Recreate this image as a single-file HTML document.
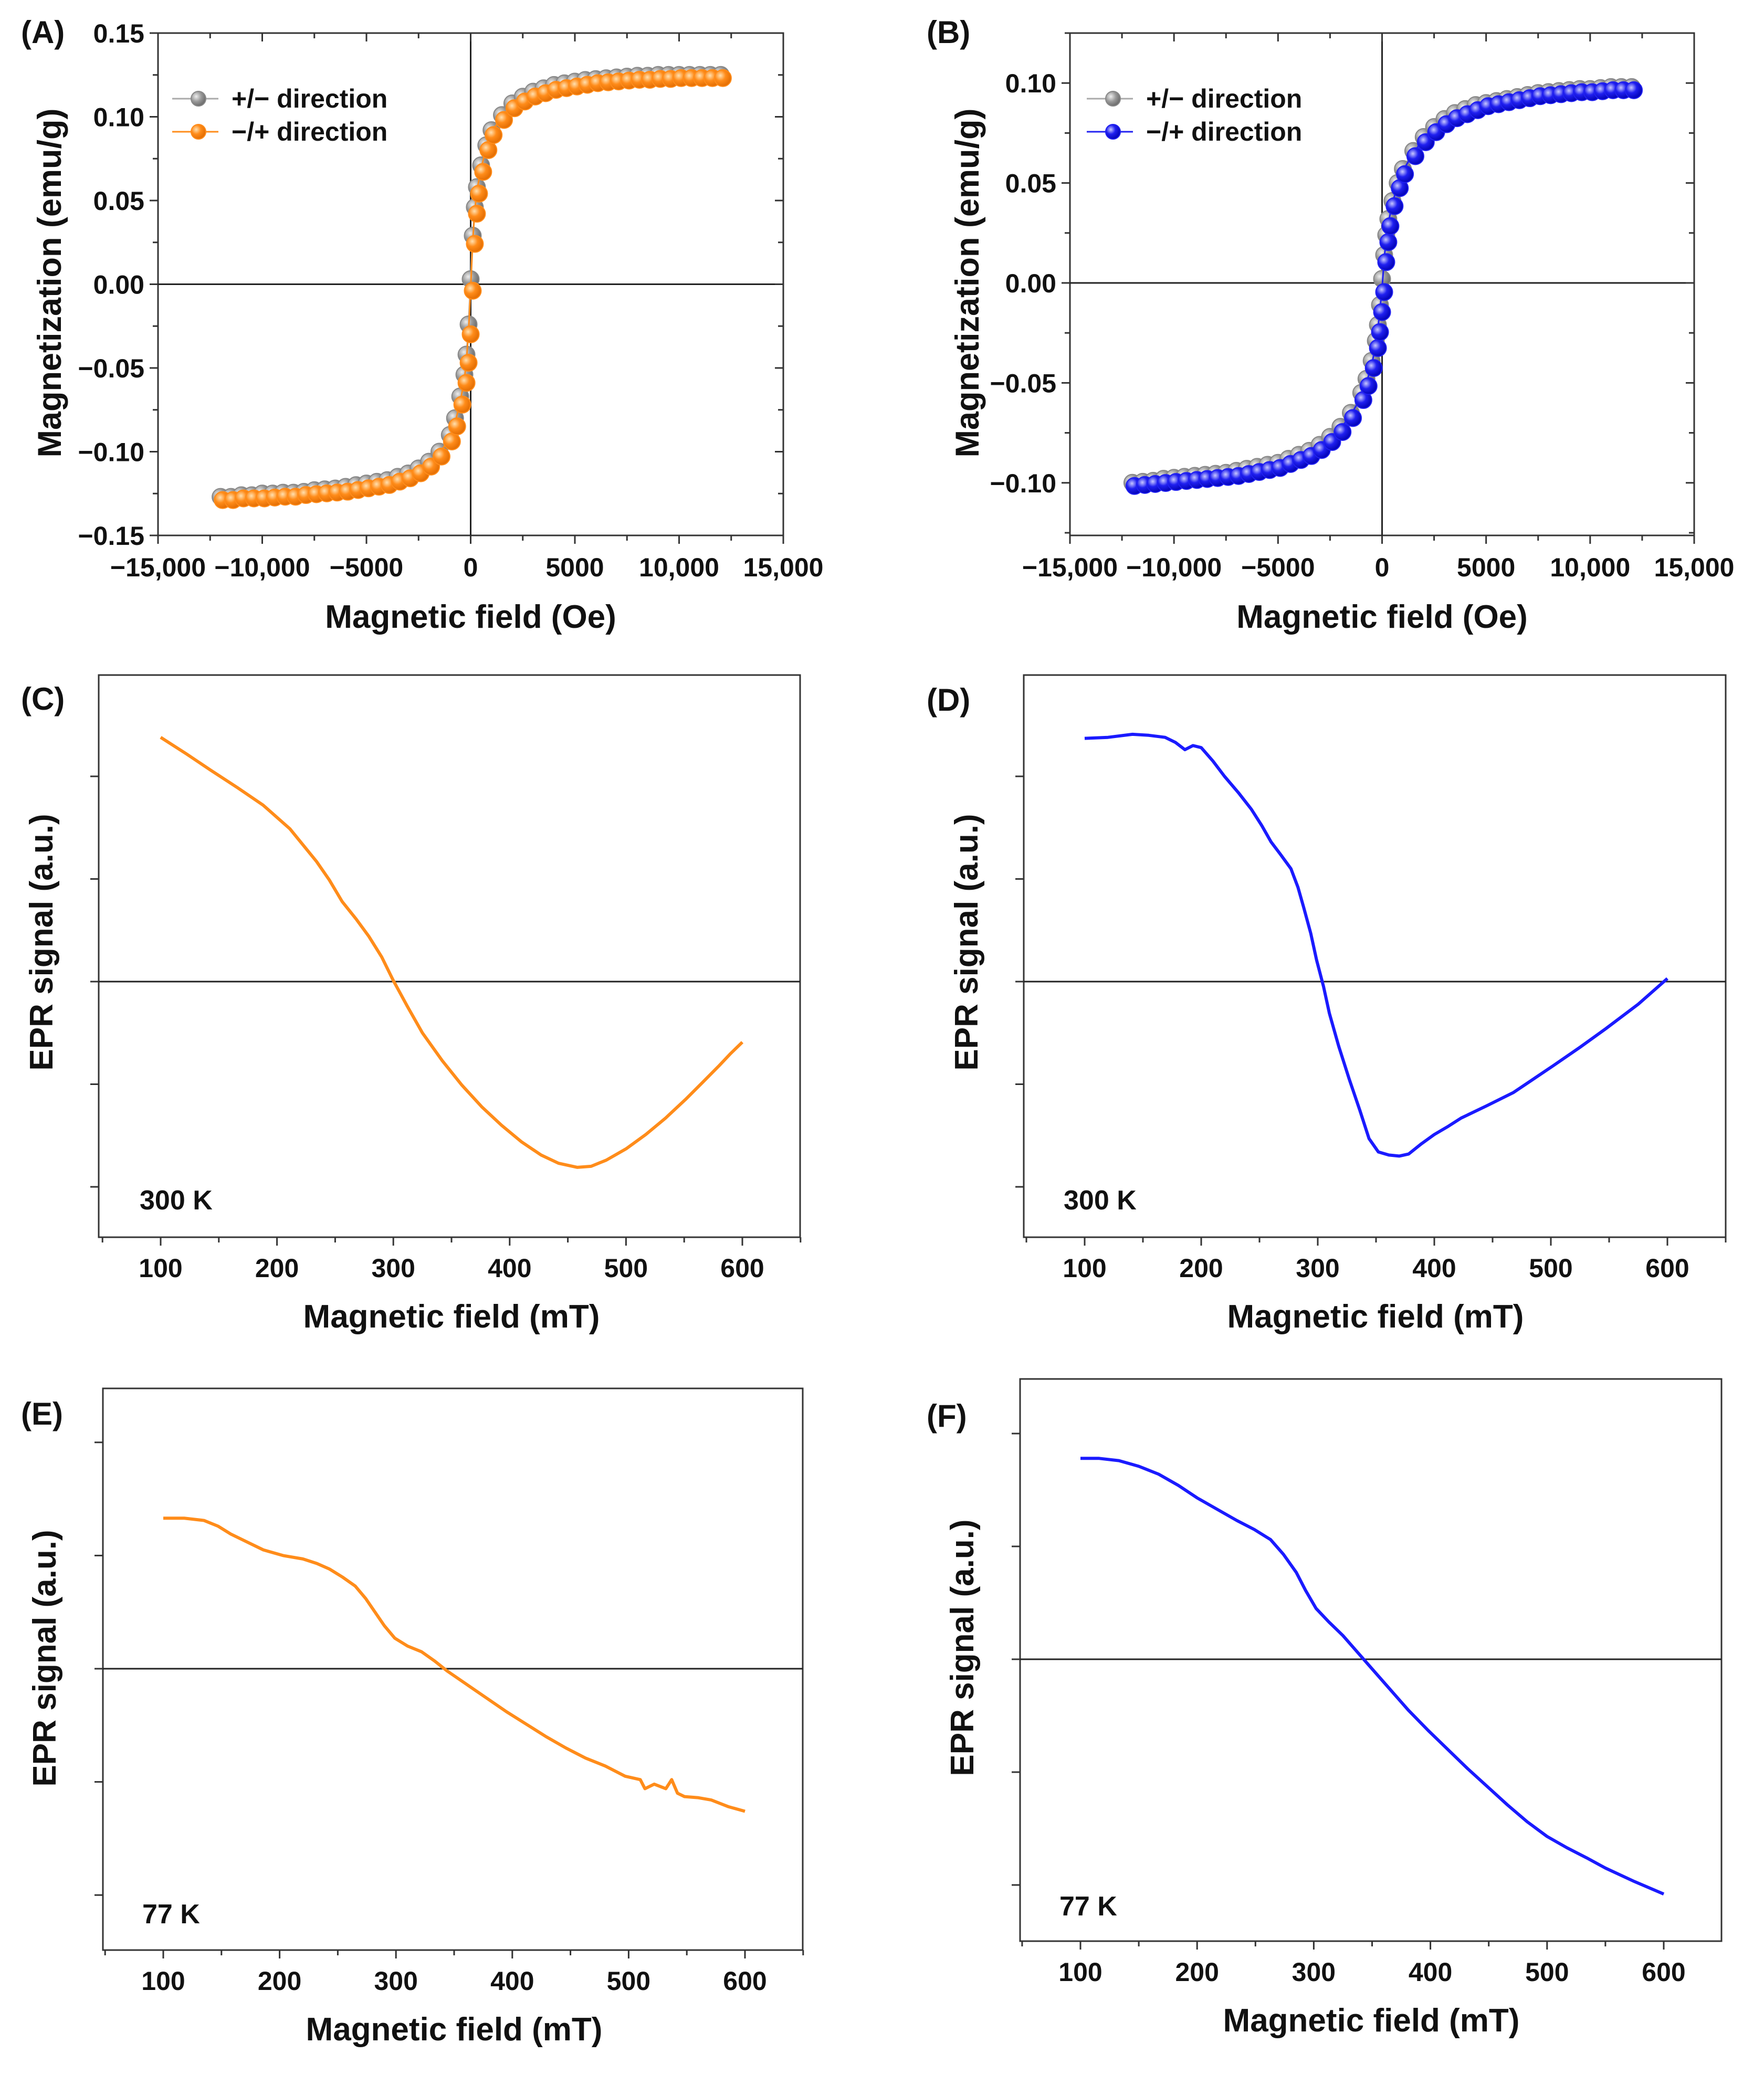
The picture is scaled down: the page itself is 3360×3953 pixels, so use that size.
<!DOCTYPE html>
<html><head><meta charset="utf-8"><style>
html,body{margin:0;padding:0;background:#fff}
svg{display:block}
text{font-family:"Liberation Sans",Arial,sans-serif;font-weight:bold;fill:#111}
</style></head><body>
<svg id="fig" xmlns="http://www.w3.org/2000/svg" width="3360" height="3953" viewBox="0 0 3360 3953">
<defs>
<radialGradient id="gOr" cx="0.35" cy="0.35" r="0.7"><stop offset="0" stop-color="#ffe0b0"/><stop offset="0.45" stop-color="#ff8c1a"/><stop offset="1" stop-color="#e06a00"/></radialGradient>
<radialGradient id="gBl" cx="0.35" cy="0.35" r="0.7"><stop offset="0" stop-color="#c8c8ff"/><stop offset="0.45" stop-color="#2020f0"/><stop offset="1" stop-color="#0000b0"/></radialGradient>
<radialGradient id="gGr" cx="0.35" cy="0.35" r="0.7"><stop offset="0" stop-color="#eeeeee"/><stop offset="0.5" stop-color="#999"/><stop offset="1" stop-color="#666"/></radialGradient>
</defs>
</svg>
<script>
// ---------- data ----------
const hystH = [-12000,-11500,-11000,-10500,-10000,-9500,-9000,-8500,-8000,-7500,-7000,-6500,-6000,-5500,-5000,-4500,-4000,-3500,-3000,-2500,-2000,-1500,-1000,-750,-500,-300,-200,-100,0,100,200,300,500,750,1000,1500,2000,2500,3000,3500,4000,4500,5000,5500,6000,6500,7000,7500,8000,8500,9000,9500,10000,10500,11000,11500,12000];
const magA_up = [-0.127,-0.127,-0.126,-0.126,-0.126,-0.1255,-0.125,-0.125,-0.124,-0.1235,-0.123,-0.1225,-0.122,-0.121,-0.120,-0.119,-0.118,-0.116,-0.114,-0.111,-0.107,-0.101,-0.092,-0.083,-0.070,-0.057,-0.045,-0.028,-0.002,0.026,0.044,0.056,0.069,0.082,0.091,0.100,0.107,0.111,0.114,0.116,0.118,0.119,0.120,0.121,0.122,0.1225,0.123,0.1235,0.124,0.124,0.1245,0.1245,0.125,0.125,0.125,0.125,0.125];
const magA_down = [-0.127,-0.127,-0.126,-0.126,-0.125,-0.125,-0.1245,-0.1245,-0.124,-0.123,-0.1225,-0.122,-0.121,-0.120,-0.119,-0.118,-0.117,-0.115,-0.113,-0.110,-0.106,-0.100,-0.090,-0.080,-0.067,-0.054,-0.042,-0.024,0.003,0.029,0.046,0.058,0.071,0.083,0.092,0.101,0.108,0.112,0.115,0.117,0.119,0.120,0.121,0.122,0.1225,0.123,0.1235,0.124,0.1245,0.1245,0.125,0.125,0.125,0.125,0.125,0.125,0.125];
const magB_up = [-0.100,-0.0995,-0.099,-0.0985,-0.098,-0.0975,-0.097,-0.0965,-0.096,-0.0955,-0.095,-0.094,-0.093,-0.092,-0.091,-0.089,-0.087,-0.085,-0.082,-0.078,-0.073,-0.066,-0.057,-0.050,-0.041,-0.031,-0.023,-0.013,-0.003,0.012,0.022,0.030,0.040,0.049,0.056,0.065,0.072,0.077,0.081,0.084,0.086,0.088,0.090,0.091,0.092,0.093,0.094,0.095,0.0955,0.096,0.0965,0.097,0.097,0.0975,0.098,0.098,0.098];
const magB_down = [-0.100,-0.0995,-0.099,-0.098,-0.0975,-0.097,-0.0965,-0.096,-0.0955,-0.095,-0.094,-0.093,-0.092,-0.091,-0.090,-0.088,-0.086,-0.084,-0.081,-0.077,-0.072,-0.065,-0.055,-0.048,-0.039,-0.029,-0.021,-0.011,0.002,0.014,0.024,0.032,0.041,0.050,0.057,0.066,0.073,0.078,0.082,0.085,0.087,0.089,0.090,0.091,0.092,0.093,0.094,0.095,0.0955,0.096,0.0965,0.097,0.097,0.0975,0.098,0.098,0.098];
const xTicksHyst = [-15000,-10000,-5000,0,5000,10000,15000];
const xTickLabelsHyst = ["\u221215,000","\u221210,000","\u22125000","0","5000","10,000","15,000"];
const yTicksA = [-0.15,-0.10,-0.05,0.00,0.05,0.10,0.15];
const yTickLabelsA = ["\u22120.15","\u22120.10","\u22120.05","0.00","0.05","0.10","0.15"];
const yTicksB = [-0.10,-0.05,0.00,0.05,0.10];
const yTickLabelsB = ["\u22120.10","\u22120.05","0.00","0.05","0.10"];

const eprTicks = [100,200,300,400,500,600];
const eprC_x = [100,122,143,166,188,211,234,245,256,268,279,290,300,312,325,342,359,376,393,410,427,442,458,470,483,500,517,534,551,566,580,590,600];
const eprC_y = [2.38,2.22,2.06,1.89,1.72,1.49,1.17,0.99,0.78,0.61,0.44,0.24,0.01,-0.24,-0.50,-0.77,-1.01,-1.22,-1.40,-1.56,-1.69,-1.77,-1.81,-1.80,-1.74,-1.63,-1.49,-1.33,-1.15,-0.98,-0.82,-0.70,-0.59];
const eprD_x = [100,120,141,155,169,178,186,193,200,210,220,232,243,252,260,268,277,283,288,294,299,305,310,318,327,336,344,352,361,370,378,389,400,412,423,445,468,485,502,525,547,575,600];
const eprD_y = [2.37,2.38,2.41,2.40,2.38,2.33,2.26,2.30,2.28,2.15,2.00,1.84,1.68,1.52,1.36,1.24,1.10,0.92,0.72,0.47,0.21,-0.05,-0.31,-0.63,-0.95,-1.25,-1.53,-1.66,-1.69,-1.70,-1.68,-1.58,-1.49,-1.41,-1.33,-1.21,-1.08,-0.95,-0.82,-0.64,-0.46,-0.22,0.03];
const eprE_x = [100,118,135,147,158,172,186,203,220,232,243,254,265,274,282,290,299,310,322,333,344,361,378,395,412,429,446,463,480,497,510,514,522,532,537,542,548,560,571,586,600];
const eprE_y = [1.33,1.33,1.31,1.26,1.19,1.12,1.05,1.00,0.97,0.93,0.88,0.81,0.73,0.62,0.50,0.38,0.27,0.20,0.15,0.07,-0.02,-0.14,-0.26,-0.38,-0.49,-0.60,-0.70,-0.79,-0.86,-0.95,-0.98,-1.06,-1.02,-1.06,-0.98,-1.10,-1.13,-1.14,-1.16,-1.22,-1.26];
const eprF_x = [100,116,133,150,167,184,200,217,234,249,263,274,285,293,302,313,325,336,347,364,381,398,415,432,449,466,483,500,517,534,550,575,600];
const eprF_y = [1.78,1.78,1.76,1.71,1.64,1.54,1.43,1.33,1.23,1.15,1.06,0.93,0.77,0.61,0.45,0.33,0.21,0.08,-0.05,-0.25,-0.45,-0.63,-0.80,-0.97,-1.13,-1.29,-1.44,-1.57,-1.67,-1.76,-1.85,-1.97,-2.08];

// ---------- helpers ----------
const svg = document.getElementById('fig');
const NS = 'http://www.w3.org/2000/svg';
function mk(tag, attrs, parent){ const e=document.createElementNS(NS,tag); for(const k in attrs) e.setAttribute(k,attrs[k]); (parent||svg).appendChild(e); return e; }
function txt(s, x, y, size, anchor, parent, rot){ const t=mk('text',{x:x,y:y,'font-size':size,'text-anchor':anchor||'start'},parent); if(rot) t.setAttribute('transform','rotate(-90 '+x+' '+y+')'); t.textContent=s; return t; }
function lin(d0,d1,r0,r1){ return v => r0 + (v-d0)*(r1-r0)/(d1-d0); }

function frame(g, x0,y0,x1,y1){
  const r = mk('rect',{x:x0,y:y0,width:x1-x0,height:y1-y0,fill:'none',stroke:'#333','stroke-width':3},g);
  
  
}

// ---------- hysteresis panels ----------
function hystPanel(cfg){
  const g = mk('g',{});
  
  
  const X = lin(-15000,15000,cfg.x0,cfg.x1), Y = lin(cfg.yd0,cfg.yd1,cfg.yr0,cfg.yr1);
  frame(g,cfg.x0,cfg.y0,cfg.x1,cfg.y1);
  mk('line',{x1:cfg.x0,x2:cfg.x1,y1:Y(0),y2:Y(0),stroke:'#222','stroke-width':3},g);
  mk('line',{x1:X(0),x2:X(0),y1:cfg.y0,y2:cfg.y1,stroke:'#222','stroke-width':3},g);
  for(let v=-15000; v<=15000; v+=2500){
    const maj = v%5000===0, L = maj?16:10;
    mk('line',{x1:X(v),x2:X(v),y1:cfg.y1,y2:cfg.y1+L,stroke:'#333','stroke-width':3},g);
    mk('line',{x1:X(v),x2:X(v),y1:cfg.y0,y2:cfg.y0+L,stroke:'#333','stroke-width':3},g);
  }
  const xl = mk('g',{},g);
  
  
  xTicksHyst.forEach((v,i)=>txt(xTickLabelsHyst[i], X(v), cfg.y1+78, 50, 'middle', xl));
  for(let k=Math.ceil(cfg.yd0/0.025-1e-6); k*0.025<=cfg.yd1+1e-9; k++){
    const v=k*0.025, maj = k%2===0, L = maj?16:10;
    mk('line',{x1:cfg.x0-L,x2:cfg.x0,y1:Y(v),y2:Y(v),stroke:'#333','stroke-width':3},g);
    mk('line',{x1:cfg.x1-L,x2:cfg.x1,y1:Y(v),y2:Y(v),stroke:'#333','stroke-width':3},g);
  }
  const yl = mk('g',{},g);
  
  
  cfg.yTicks.forEach((v,i)=>txt(cfg.yLabels[i], cfg.x0-26, Y(v)+18, 50, 'end', yl));
  const s1 = mk('g',{},g);
  
  
  mk('polyline',{points:hystH.map((h,i)=>X(h)+','+Y(cfg.down[i])).join(' '),fill:'none',stroke:'#aaa','stroke-width':3},s1);
  hystH.forEach((h,i)=>{ const c=mk('circle',{cx:X(h),cy:Y(cfg.down[i]),r:16,fill:'url(#gGr)',stroke:'#888','stroke-width':2},s1);
      });
  const s2 = mk('g',{},g);
  
  
  mk('polyline',{points:hystH.map((h,i)=>X(h)+','+Y(cfg.up[i])).join(' '),fill:'none',stroke:cfg.col,'stroke-width':3},s2);
  hystH.forEach((h,i)=>{ const c=mk('circle',{cx:X(h)+4,cy:Y(cfg.up[i])+6,r:16,fill:cfg.grad,stroke:cfg.col,'stroke-width':2},s2);
      });
  const lg = mk('g',{},g);
  
  
  mk('line',{x1:cfg.lx,x2:cfg.lx+88,y1:cfg.ly,y2:cfg.ly,stroke:'#aaa','stroke-width':3},lg);
  mk('circle',{cx:cfg.lx+50,cy:cfg.ly,r:14,fill:'url(#gGr)',stroke:'#888','stroke-width':2},lg);
  txt('+/\u2212 direction', cfg.lx+113, cfg.ly+17, 50, 'start', lg);
  mk('line',{x1:cfg.lx,x2:cfg.lx+88,y1:cfg.ly+63,y2:cfg.ly+63,stroke:cfg.col,'stroke-width':3},lg);
  mk('circle',{cx:cfg.lx+50,cy:cfg.ly+63,r:14,fill:cfg.grad,stroke:cfg.col,'stroke-width':2},lg);
  txt('\u2212/+ direction', cfg.lx+113, cfg.ly+80, 50, 'start', lg);
  const xt = txt('Magnetic field (Oe)', (cfg.x0+cfg.x1)/2, 1196, 62, 'middle', g);
   
  const yt = txt('Magnetization (emu/g)', cfg.ytx, 539, 63, 'middle', g, true);
   
  const pl = txt(cfg.label, cfg.lbx, 82, 60, 'start', g);
   
}

hystPanel({name:'panel-a-hysteresis',x0:301,x1:1492,y0:63,y1:1020,yd0:-0.15,yd1:0.15,yr0:1020,yr1:63,
  yTicks:yTicksA,yLabels:yTickLabelsA,up:magA_up,down:magA_down,col:'#ff8c1a',grad:'url(#gOr)',
  lx:328,ly:188,ytx:116,lbx:40,label:'(A)'});
hystPanel({name:'panel-b-hysteresis',x0:2038,x1:3227,y0:63,y1:1020,yd0:-0.125,yd1:0.125,yr0:1015,yr1:63,
  yTicks:yTicksB,yLabels:yTickLabelsB,up:magB_up,down:magB_down,col:'#2020f0',grad:'url(#gBl)',
  lx:2070,ly:188,ytx:1864,lbx:1765,label:'(B)'});

// ---------- EPR panels ----------
function eprPanel(cfg){
  const g = mk('g',{});
  
  
  const X = lin(100,600,cfg.xa,cfg.xb), Y = v => cfg.zero - v*cfg.unit;
  frame(g,cfg.x0,cfg.y0,cfg.x1,cfg.y1);
  mk('line',{x1:cfg.x0,x2:cfg.x1,y1:Y(0),y2:Y(0),stroke:'#222','stroke-width':3},g);
  for(let v=50; v<=650; v+=50){
    const xx=X(v); if(xx<cfg.x0-1||xx>cfg.x1+1) continue;
    const L = v%100===0?16:10;
    mk('line',{x1:xx,x2:xx,y1:cfg.y1,y2:cfg.y1+L,stroke:'#333','stroke-width':3},g);
  }
  for(let k=-3;k<=3;k++){
    const yy=Y(k); if(yy<cfg.y0-1||yy>cfg.y1+1) continue;
    mk('line',{x1:cfg.x0-16,x2:cfg.x0,y1:yy,y2:yy,stroke:'#333','stroke-width':3},g);
  }
  const xl = mk('g',{},g);
  
  
  eprTicks.forEach(v=>txt(String(v), X(v), cfg.y1+76, 50, 'middle', xl));
  const p = mk('polyline',{points:cfg.xs.map((m,i)=>X(m)+','+Y(cfg.ys[i])).join(' '),fill:'none',stroke:cfg.col,'stroke-width':6,'stroke-linejoin':'round'},g);
  
  
  const xt = txt('Magnetic field (mT)', cfg.xtx, cfg.y1+172, 62, 'middle', g);
   
  const yt = txt('EPR signal (a.u.)', cfg.ytx, cfg.ytc, 62, 'middle', g, true);
   
  const tl = txt(cfg.temp, cfg.tx, cfg.ty, 52, 'start', g);
   
  const pl = txt(cfg.label, cfg.lbx, cfg.lby, 60, 'start', g);
   
}

eprPanel({name:'panel-c-epr-300k',x0:188,x1:1524,y0:1286,y1:2357,xa:306,xb:1414,zero:1870,unit:195.5,
  xs:eprC_x,ys:eprC_y,col:'#ff8c1a',xtx:860,ytx:100,ytc:1795,temp:'300 K',tx:266,ty:2304,label:'(C)',lbx:40,lby:1352});
eprPanel({name:'panel-d-epr-300k',x0:1950,x1:3287,y0:1286,y1:2357,xa:2066,xb:3176,zero:1870,unit:195.5,
  xs:eprD_x,ys:eprD_y,col:'#1a1aff',xtx:2620,ytx:1862,ytc:1795,temp:'300 K',tx:2026,ty:2304,label:'(D)',lbx:1765,lby:1354});
eprPanel({name:'panel-e-epr-77k',x0:196,x1:1529,y0:2645,y1:3715,xa:311,xb:1419,zero:3179,unit:215.6,
  xs:eprE_x,ys:eprE_y,col:'#ff8c1a',xtx:865,ytx:106,ytc:3159,temp:'77 K',tx:271,ty:3664,label:'(E)',lbx:40,lby:2714});
eprPanel({name:'panel-f-epr-77k',x0:1943,x1:3279,y0:2627,y1:3698,xa:2058,xb:3169,zero:3161,unit:215,
  xs:eprF_x,ys:eprF_y,col:'#1a1aff',xtx:2612,ytx:1854,ytc:3139,temp:'77 K',tx:2018,ty:3649,label:'(F)',lbx:1765,lby:2718});
</script>
</body></html>
